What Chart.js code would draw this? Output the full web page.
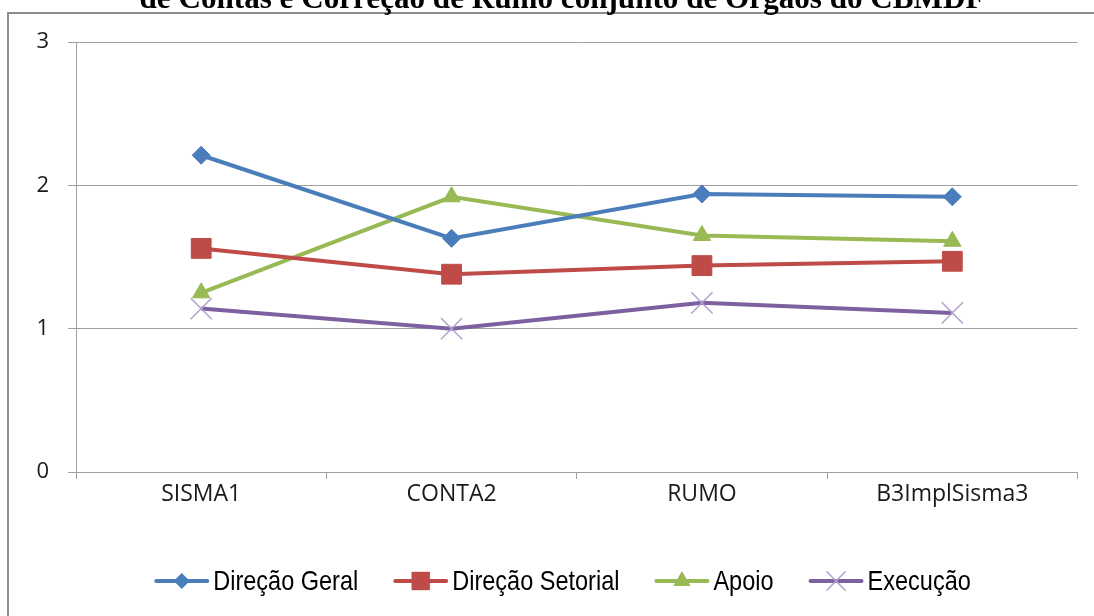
<!DOCTYPE html>
<html><head><meta charset="utf-8">
<script src="https://cdn.jsdelivr.net/npm/chart.js@4.4.1/dist/chart.umd.min.js"></script>
<style>html,body{margin:0;padding:0;background:#fff;overflow:hidden}#wrap{width:1094px;height:616px;position:relative}</style>
</head><body><div id="wrap"><canvas id="c" width="1094" height="616"></canvas></div>
<script>
const titleText = 'de Contas e Correção de Rumo conjunto de Órgãos do CBMDF';
const categories = ['SISMA1', 'CONTA2', 'RUMO', 'B3ImplSisma3'];
const seriesNames = ['Direção Geral', 'Direção Setorial', 'Apoio', 'Execução'];
const direcaoGeral = [2.21, 1.63, 1.94, 1.92];
const direcaoSetorial = [1.56, 1.38, 1.44, 1.47];
const apoio = [1.25, 1.92, 1.65, 1.61];
const execucao = [1.14, 1.00, 1.18, 1.11];
const yTicks = [0, 1, 2, 3];

const colors = ['#4a7ebb', '#be4b48', '#98b954', '#7d60a0'];
const styles = [
  {pointStyle: 'rectRot', r: 9, lr: 8},
  {pointStyle: 'rect', r: 14, lr: 13},
  {pointStyle: 'triangle', r: 10, lr: 10},
  {pointStyle: 'crossRot', r: 15, lr: 13}
];
const seriesData = [direcaoGeral, direcaoSetorial, apoio, execucao];

const datasets = seriesNames.map((name, i) => ({
  label: name,
  data: seriesData[i],
  borderColor: colors[i],
  backgroundColor: colors[i],
  borderWidth: 4,
  pointStyle: styles[i].pointStyle,
  pointRadius: styles[i].r,
  pointHoverRadius: styles[i].r,
  pointBackgroundColor: colors[i],
  pointBorderColor: i === 3 ? '#b0a2d0' : colors[i],
  pointBorderWidth: i === 3 ? 1.5 : 1,
  tension: 0,
  clip: false
}));

function drawMarker(ctx, style, x, y, r, color, stroke) {
  ctx.save();
  ctx.fillStyle = color; ctx.strokeStyle = stroke || color; ctx.lineWidth = 1;
  ctx.beginPath();
  if (style === 'rectRot') {
    ctx.moveTo(x, y - r); ctx.lineTo(x + r, y); ctx.lineTo(x, y + r); ctx.lineTo(x - r, y); ctx.closePath(); ctx.fill();
  } else if (style === 'rect') {
    const s = r * Math.SQRT1_2; ctx.rect(x - s, y - s, 2 * s, 2 * s); ctx.fill();
  } else if (style === 'triangle') {
    ctx.moveTo(x, y - r); ctx.lineTo(x + r * 0.866, y + r / 2); ctx.lineTo(x - r * 0.866, y + r / 2); ctx.closePath(); ctx.fill();
  } else {
    const o = r * Math.SQRT1_2; ctx.lineWidth = 1.5;
    ctx.moveTo(x - o, y - o); ctx.lineTo(x + o, y + o); ctx.moveTo(x + o, y - o); ctx.lineTo(x - o, y + o); ctx.stroke();
  }
  ctx.restore();
}

const decor = {
  id: 'decor',
  beforeDraw(chart) {
    const ctx = chart.ctx;
    ctx.save();
    ctx.fillStyle = '#fff'; ctx.fillRect(0, 0, chart.width, chart.height);
    ctx.strokeStyle = '#8c8c8c'; ctx.lineWidth = 2;
    ctx.strokeRect(8, 13, chart.width + 20, chart.height + 20);
    let fs = 28;
    ctx.font = 'bold ' + fs + 'px "Liberation Serif", "Times New Roman", serif';
    const w = ctx.measureText(titleText).width;
    fs = fs * 845 / w;
    ctx.font = 'bold ' + fs.toFixed(2) + 'px "Liberation Serif", "Times New Roman", serif';
    ctx.fillStyle = '#000'; ctx.textAlign = 'center'; ctx.textBaseline = 'alphabetic';
    ctx.fillText(titleText, 562, 8);
    ctx.restore();
  },
  afterDraw(chart) {
    const ctx = chart.ctx;
    ctx.save();
    const fs = 28;
    const fam = '"Liberation Sans", Arial, sans-serif';
    ctx.font = fs + 'px ' + fam;
    const sx = 145 / ctx.measureText(seriesNames[0]).width;
    const lineW = 55, gapText = 4, gapItem = 35;
    const widths = chart.data.datasets.map(d => lineW + gapText + ctx.measureText(d.label).width * sx);
    const total = widths.reduce((a, b) => a + b, 0) + gapItem * (widths.length - 1);
    let x = 562.5 - total / 2;
    const y = 581;
    chart.data.datasets.forEach((d, i) => {
      ctx.strokeStyle = colors[i]; ctx.lineWidth = 4; ctx.lineCap = 'round';
      ctx.beginPath(); ctx.moveTo(x + 2, y); ctx.lineTo(x + lineW - 2, y); ctx.stroke();
      drawMarker(ctx, styles[i].pointStyle, x + lineW / 2, y, styles[i].lr, colors[i], i === 3 ? '#b0a2d0' : colors[i]);
      ctx.save();
      ctx.translate(x + lineW + gapText, y + 1);
      ctx.scale(sx, 1);
      ctx.fillStyle = '#000'; ctx.textAlign = 'left'; ctx.textBaseline = 'middle';
      ctx.fillText(d.label, 0, 0);
      ctx.restore();
      x += widths[i] + gapItem;
    });
    ctx.restore();
  }
};

new Chart(document.getElementById('c'), {
  type: 'line',
  data: { labels: categories, datasets },
  plugins: [decor],
  options: {
    responsive: false,
    animation: false,
    devicePixelRatio: 1,
    layout: { padding: { top: 42, right: 16, bottom: 0, left: 0 } },
    plugins: { legend: { display: false }, title: { display: false }, tooltip: { enabled: false } },
    scales: {
      x: {
        offset: true,
        grid: { offset: true, drawOnChartArea: false, drawTicks: true, tickLength: 7, color: '#a0a0a0' },
        border: { display: true, color: '#a0a0a0' },
        ticks: { color: '#1a1a1a', font: { family: '"Open Sans", sans-serif', size: 23 }, padding: 2 },
        afterFit(scale) { scale.height = 144; }
      },
      y: {
        min: 0, max: 3,
        afterBuildTicks(scale) { scale.ticks = yTicks.map(v => ({ value: v })); },
        grid: { color: '#a0a0a0', tickLength: 8, drawTicks: true },
        border: { display: true, color: '#a0a0a0' },
        ticks: { color: '#1a1a1a', font: { family: '"Open Sans", sans-serif', size: 22 }, padding: 19 },
        afterFit(scale) { scale.width = 76; }
      }
    }
  }
});
</script>
</body></html>
